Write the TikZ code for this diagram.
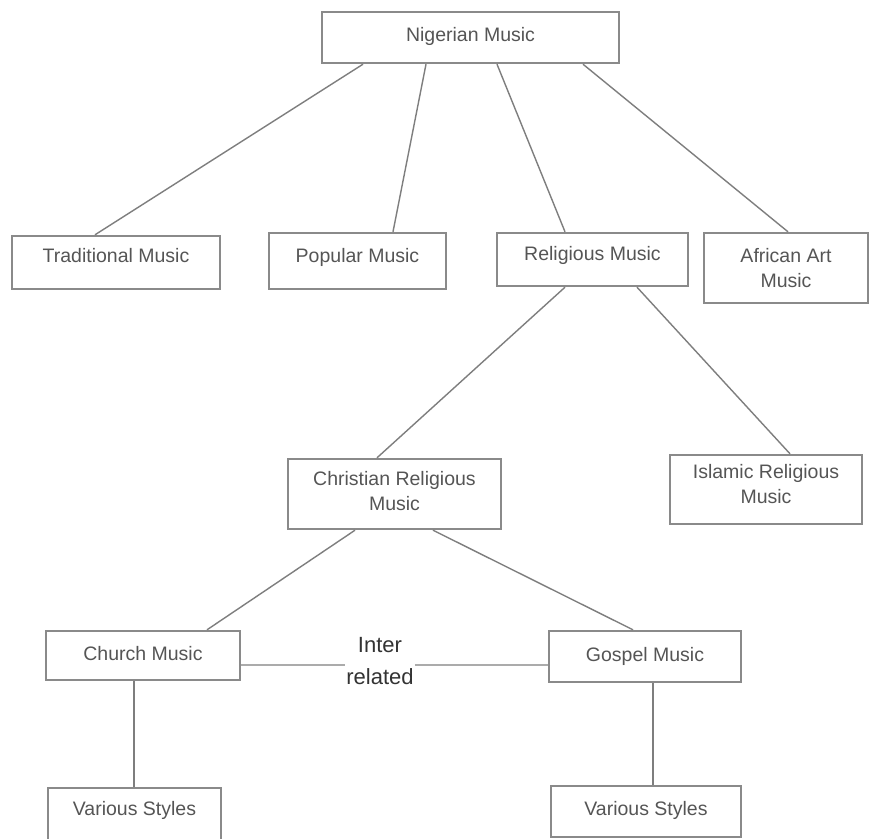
\documentclass[tikz,border=0pt]{standalone}
\usepackage{fontspec}
\setmainfont{Liberation Sans}
\definecolor{boxline}{HTML}{8A8A8A}
\definecolor{conn}{HTML}{7E7E7E}
\definecolor{txt}{HTML}{555555}
\definecolor{light}{HTML}{ABABAB}
\begin{document}
\begin{tikzpicture}[x=1pt,y=-1pt,
  mbox/.style={draw=boxline, line width=2.4pt, fill=white, inner sep=0pt,
    align=center, text=txt, font=\fontsize{19.5}{25}\selectfont, text height=14pt},
  twoline/.style={text height=39pt},
  link/.style={draw=conn, line width=1.4pt},
  rel/.style={draw=light, line width=1.6pt}]
\useasboundingbox (0,0) rectangle (870,838);
\fill[white] (0,0) rectangle (870,838);

\node[mbox, minimum width=297pt, minimum height=51pt, text depth=7pt] (nig) at (470.5,37.5) {Nigerian Music};
\node[mbox, minimum width=208pt, minimum height=53pt, text depth=14pt] (trad) at (116,262.5) {Traditional Music};
\node[mbox, minimum width=177pt, minimum height=56pt, text depth=12pt] (pop) at (357.5,261) {Popular Music};
\node[mbox, minimum width=191pt, minimum height=53pt, text depth=13pt] (relig) at (592.5,259.5) {Religious Music};
\node[mbox, twoline, minimum width=164pt, minimum height=70pt, text depth=0pt] (afr) at (786,268) {African Art\\Music};
\node[mbox, twoline, minimum width=213pt, minimum height=70pt, text depth=7pt] (chr) at (394.5,494) {Christian Religious\\Music};
\node[mbox, twoline, minimum width=192pt, minimum height=69pt, text depth=12pt] (isl) at (766,489.5) {Islamic Religious\\Music};
\node[mbox, minimum width=194pt, minimum height=49pt, text depth=5pt] (church) at (143,655.5) {Church Music};
\node[mbox, minimum width=192pt, minimum height=51pt, text depth=5pt] (gospel) at (645,656.5) {Gospel Music};
\node[mbox, minimum width=173pt, minimum height=52pt, text depth=12pt] (vsa) at (134.5,814) {Various Styles};
\node[mbox, minimum width=190pt, minimum height=51pt, text depth=7pt] (vsb) at (646,811.5) {Various Styles};

\node[align=center, text=black!80, font=\fontsize{22}{32}\selectfont, inner sep=1pt] (ir) at (380,661) {Inter\\related};

\draw[link] ([xshift=-107.5pt]nig.south) -- ([xshift=-21pt]trad.north);
\draw[link] ([xshift=-44.5pt]nig.south) -- ([xshift=35.5pt]pop.north);
\draw[link] ([xshift=26.5pt]nig.south) -- ([xshift=-27.5pt]relig.north);
\draw[link] ([xshift=112.5pt]nig.south) -- ([xshift=2pt]afr.north);
\draw[link] ([xshift=-27.5pt]relig.south) -- ([xshift=-17.5pt]chr.north);
\draw[link] ([xshift=44.5pt]relig.south) -- ([xshift=24pt]isl.north);
\draw[link] ([xshift=-39.5pt]chr.south) -- ([xshift=64pt]church.north);
\draw[link] ([xshift=38.5pt]chr.south) -- ([xshift=-12pt]gospel.north);
\draw[link] ([xshift=-9pt]church.south) -- ([xshift=-0.5pt]vsa.north);
\draw[link] ([xshift=8pt]gospel.south) -- ([xshift=7pt]vsb.north);

\draw[rel] ([yshift=-9.5pt]church.east) -- ([yshift=-9.5pt]church.east -| ir.west);
\draw[rel] ([yshift=-8.5pt]gospel.west -| ir.east) -- ([yshift=-8.5pt]gospel.west);
\end{tikzpicture}
\end{document}
